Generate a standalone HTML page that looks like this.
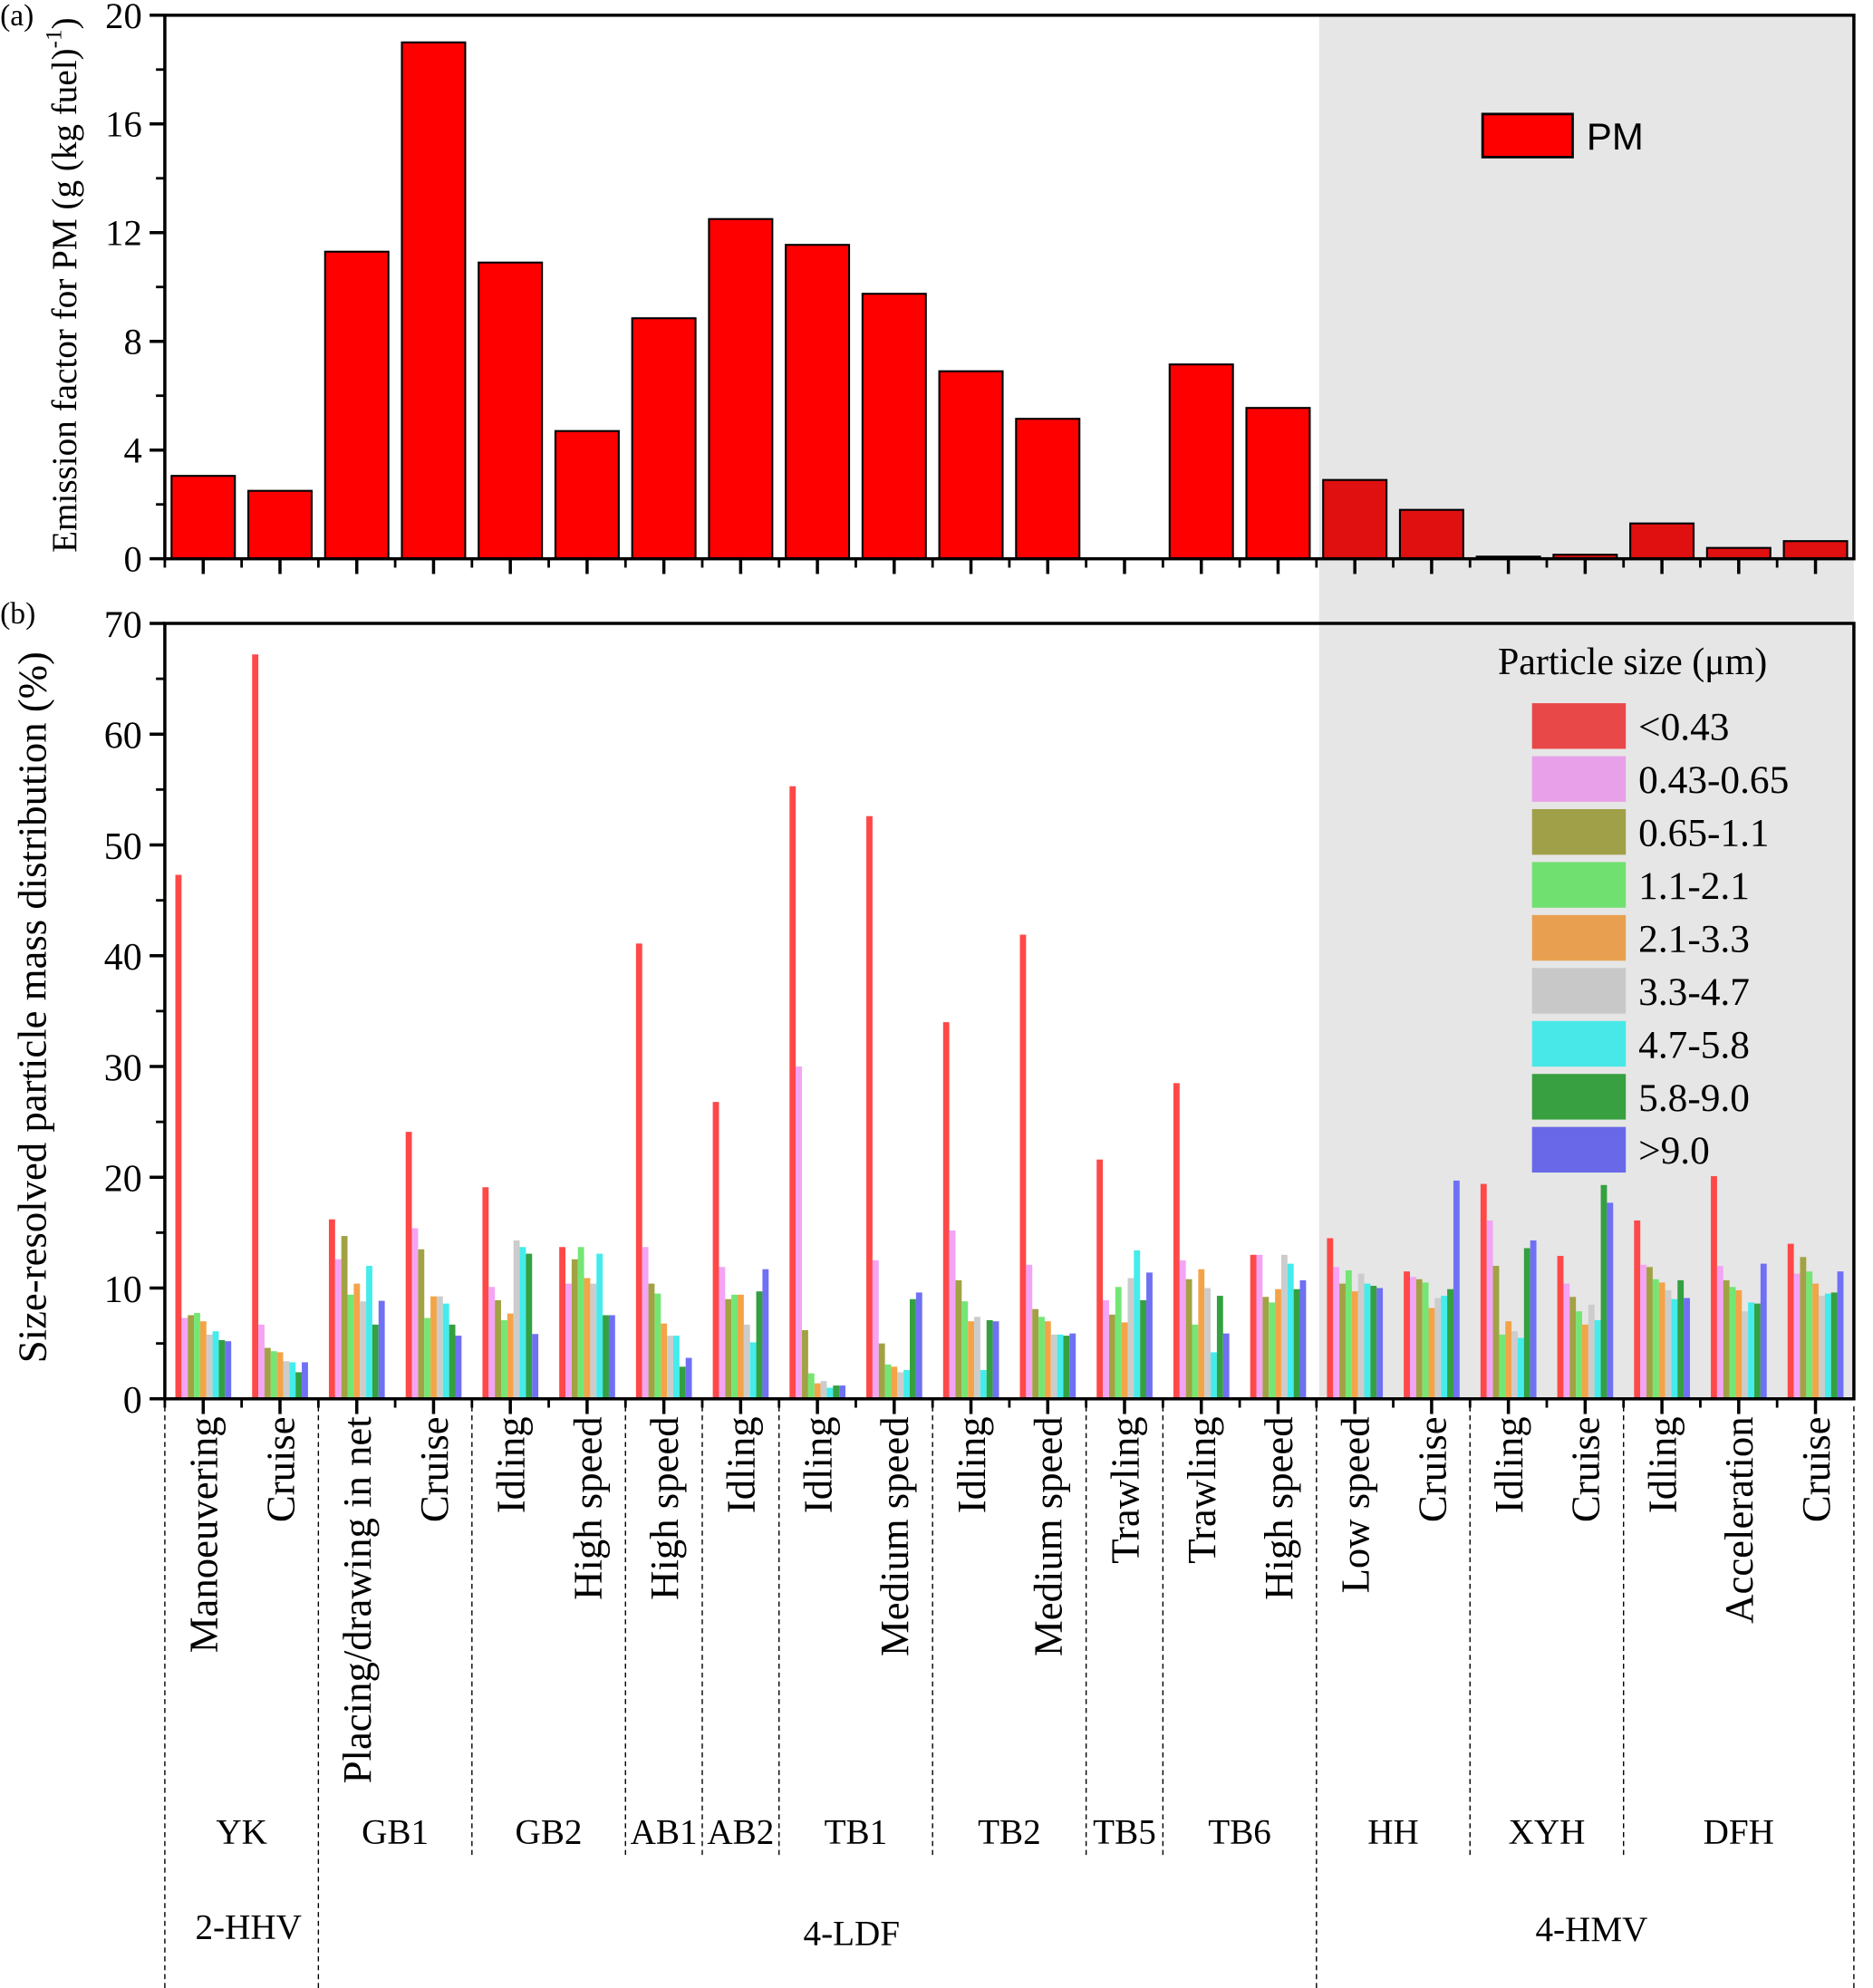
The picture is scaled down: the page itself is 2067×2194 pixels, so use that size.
<!DOCTYPE html>
<html><head><meta charset="utf-8"><style>
html,body{margin:0;padding:0;background:#fff;}
svg{display:block;font-family:"Liberation Serif",serif;}
</style></head><body>
<svg id="chart" width="2067" height="2194" viewBox="0 0 1478 1569" font-family="Liberation Serif, serif" xmlns="http://www.w3.org/2000/svg">
<rect x="1041" y="12" width="422" height="1092" fill="#e6e6e6"/>
<g id="topG"></g>
<g id="botG"></g>
<g id="labG"></g>
<text x="0" y="20" font-size="24">(a)</text>
<text x="0" y="492" font-size="24">(b)</text>
<text transform="translate(60,225) rotate(-90)" text-anchor="middle" font-size="28">Emission factor for PM (g (kg fuel)<tspan dy="-12" font-size="18">-1</tspan><tspan dy="12">)</tspan></text>
<text transform="translate(36,795) rotate(-90)" text-anchor="middle" font-size="32">Size-resolved particle mass distribution (%)</text>
<rect x="1170" y="90" width="71" height="34" fill="#ff0000" stroke="#000" stroke-width="2"/>
<text x="1252" y="118" font-family="Liberation Sans, sans-serif" font-size="30">PM</text>
<text x="1182" y="532" font-size="30">Particle size (μm)</text>
</svg>
<script>
const categories=["Manoeuvering","Cruise","Placing/drawing in net","Cruise","Idling","High speed","High speed","Idling","Idling","Medium speed","Idling","Medium speed","Trawling","Trawling","High speed","Low speed","Cruise","Idling","Cruise","Idling","Acceleration","Cruise"];
const pmValues=[3.05,2.5,11.3,19.0,10.9,4.7,8.85,12.5,11.55,9.75,6.9,5.15,0,7.15,5.55,2.9,1.8,0.08,0.15,1.3,0.4,0.65];
const sizeBins=["<0.43","0.43-0.65","0.65-1.1","1.1-2.1","2.1-3.3","3.3-4.7","4.7-5.8","5.8-9.0",">9.0"];
const s0=[47.3,67.2,16.2,24.1,19.1,13.7,41.1,26.8,55.3,52.6,34.0,41.9,21.6,28.5,13.0,14.5,11.5,19.4,12.9,16.1,20.1,14.0];
const s1=[7.3,6.7,12.6,15.4,10.1,10.4,13.7,11.9,30.0,12.5,15.2,12.1,8.9,12.5,13.0,11.9,11.0,16.1,10.4,12.1,12.0,11.3];
const s2=[7.55,4.6,14.7,13.5,8.9,12.6,10.4,9.0,6.2,5.0,10.7,8.1,7.6,10.8,9.2,10.4,10.8,12.0,9.2,11.9,10.7,12.8];
const s3=[7.75,4.3,9.4,7.3,7.1,13.7,9.5,9.4,2.3,3.1,8.8,7.4,10.1,6.7,8.7,11.6,10.5,5.8,7.9,10.8,10.1,11.5];
const s4=[7.0,4.2,10.4,9.25,7.7,10.9,6.8,9.4,1.4,2.9,7.0,7.0,6.9,11.7,9.9,9.7,8.2,7.0,6.7,10.5,9.8,10.4];
const s5=[5.8,3.4,8.8,9.25,14.3,10.4,5.7,6.7,1.6,2.4,7.4,5.8,10.9,10.0,13.0,11.3,9.1,6.1,8.5,9.8,7.9,9.3];
const s6=[6.1,3.3,12.0,8.6,13.7,13.1,5.7,5.1,1.0,2.6,2.6,5.8,13.4,4.2,12.2,10.4,9.3,5.5,7.1,9.0,8.7,9.5];
const s7=[5.3,2.4,6.7,6.7,13.1,7.55,2.9,9.7,1.2,9.0,7.1,5.7,8.9,9.3,9.9,10.2,9.9,13.6,19.3,10.7,8.6,9.6];
const s8=[5.2,3.3,8.85,5.7,5.85,7.55,3.7,11.7,1.2,9.6,7.0,5.9,11.4,5.9,10.7,10.0,19.7,14.3,17.7,9.1,12.2,11.5];
const series=[s0,s1,s2,s3,s4,s5,s6,s7,s8];
const topTicks=[0,4,8,12,16,20];
const botTicks=[0,10,20,30,40,50,60,70];
const groups=["YK","GB1","GB2","AB1","AB2","TB1","TB2","TB5","TB6","HH","XYH","DFH"];
const groupSizes=[2,2,2,1,1,2,2,1,2,2,2,3];
const barColors=["#ff4848","#f4a4f4","#a2a244","#74e674","#f4a448","#cccccc","#44ecec","#34a040","#7070f4"];
const legColors=["#e84848","#e8a0e8","#a0a048","#70e070","#e8a050","#c8c8c8","#48e8e8","#38a040","#6868e8"];

const NS="http://www.w3.org/2000/svg";
function mk(tag,attrs,parent,text){const e=document.createElementNS(NS,tag);for(const k in attrs)e.setAttribute(k,attrs[k]);if(text!==undefined)e.textContent=text;parent.appendChild(e);return e;}
const L=130,R=1463,n=categories.length,cw=(R-L)/n;
const xc=i=>L+cw*(i+0.5);
const yTop=v=>441-v*(441-12)/20;
const yBot=v=>1104-v*(1104-492)/70;
const topG=document.getElementById('topG'),botG=document.getElementById('botG'),labG=document.getElementById('labG');
const svgEl=document.getElementById('chart');

pmValues.forEach((v,i)=>{
  if(v<=0)return;
  const r=mk('rect',{x:xc(i)-25,y:yTop(v),width:50,height:441-yTop(v),fill:i>=15?'#e01010':'#ff0000',stroke:'#000','stroke-width':1.5},topG);
  
  
});
mk('rect',{x:L,y:12,width:R-L,height:429,fill:'none',stroke:'#000','stroke-width':2.5},topG);
topTicks.forEach(t=>{
  mk('line',{x1:L-12,x2:L,y1:yTop(t),y2:yTop(t),stroke:'#000','stroke-width':2.5},topG);
  const tx=mk('text',{x:L-18,y:yTop(t)+10,'text-anchor':'end','font-size':29},topG,String(t));
  
  
  if(t<20)mk('line',{x1:L-7,x2:L,y1:yTop(t+2),y2:yTop(t+2),stroke:'#000','stroke-width':2},topG);
});
for(let i=0;i<n;i++){
  mk('line',{x1:xc(i),x2:xc(i),y1:441,y2:453,stroke:'#000','stroke-width':2.5},topG);
  mk('line',{x1:L+cw*i,x2:L+cw*i,y1:441,y2:448,stroke:'#000','stroke-width':2},topG);
}
series.forEach((s,k)=>{
  s.forEach((v,i)=>{
    const r=mk('rect',{x:xc(i)-22+k*4.9,y:yBot(v),width:4.9,height:1104-yBot(v),fill:barColors[k]},botG);
    
    
  });
});
mk('rect',{x:L,y:492,width:R-L,height:612,fill:'none',stroke:'#000','stroke-width':2.5},botG);
botTicks.forEach(t=>{
  mk('line',{x1:L-12,x2:L,y1:yBot(t),y2:yBot(t),stroke:'#000','stroke-width':2.5},botG);
  const tx=mk('text',{x:L-18,y:yBot(t)+11,'text-anchor':'end','font-size':30},botG,String(t));
  
  
  if(t<70)mk('line',{x1:L-7,x2:L,y1:yBot(t+5),y2:yBot(t+5),stroke:'#000','stroke-width':2},botG);
});
for(let i=0;i<n;i++){
  mk('line',{x1:xc(i),x2:xc(i),y1:1104,y2:1116,stroke:'#000','stroke-width':2.5},botG);
  mk('line',{x1:L+cw*i,x2:L+cw*i,y1:1104,y2:1111,stroke:'#000','stroke-width':2},botG);
  const t=mk('text',{transform:`translate(${xc(i)+11},1118) rotate(-90)`,'text-anchor':'end','font-size':32},labG,categories[i]);
  
  
}
let start=0;
const longIdx=[0,2,15,22];
mk('line',{x1:L,x2:L,y1:1110,y2:1569,stroke:'#000','stroke-width':1,'stroke-dasharray':'4,3'},labG);
groupSizes.forEach((g,j)=>{
  const end=start+g;
  const xe=L+cw*end;
  mk('line',{x1:xe,x2:xe,y1:1110,y2:longIdx.includes(end)?1569:1465,stroke:'#000','stroke-width':1,'stroke-dasharray':'4,3'},labG);
  const t=mk('text',{x:(L+cw*start+xe)/2,y:1455,'text-anchor':'middle','font-size':28},labG,groups[j]);
  
  
  start=end;
});
[["2-HHV",196,1530],["4-LDF",672,1535],["4-HMV",1256,1532]].forEach(a=>{
  const t=mk('text',{x:a[1],y:a[2],'text-anchor':'middle','font-size':28},labG,a[0]);
  
  
});
sizeBins.forEach((b,k)=>{
  const y=555+k*41.8;
  const r=mk('rect',{x:1209,y:y,width:74,height:36,fill:legColors[k]},svgEl);
  
  
  const t=mk('text',{x:1293,y:y+29,'font-size':31},svgEl,b);
  
  
});
</script>
</body></html>
